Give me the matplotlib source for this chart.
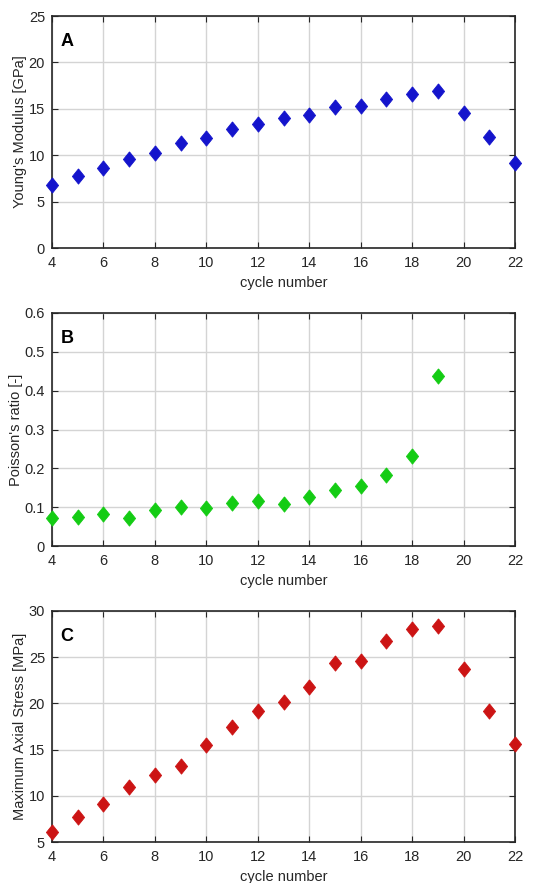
import numpy as np
import matplotlib.pyplot as plt

plt.rcParams['font.family'] = ['Liberation Sans', 'DejaVu Sans']

cycles = np.arange(4, 23)
youngs = [6.8, 7.8, 8.6, 9.6, 10.2, 11.3, 11.8, 12.8, 13.4, 14.0,
          14.3, 15.2, 15.3, 16.1, 16.6, 16.9, 14.5, 12.0, 9.2]
poisson_cycles = np.arange(4, 20)
poisson = [0.073, 0.074, 0.083, 0.071, 0.092, 0.100, 0.098, 0.110, 0.115,
           0.108, 0.126, 0.144, 0.155, 0.184, 0.231, 0.437]
stress = [6.1, 7.7, 9.1, 11.0, 12.3, 13.2, 15.5, 17.4, 19.2, 20.1,
          21.8, 24.4, 24.6, 26.8, 28.0, 28.4, 23.7, 19.2, 15.6]

panels = [
    ("A", cycles, youngs, "#1414cc", "Young's Modulus [GPa]", (0, 25), np.arange(0, 26, 5)),
    ("B", poisson_cycles, poisson, "#14cc14", "Poisson's ratio [-]", (0, 0.6), np.arange(0, 0.61, 0.1)),
    ("C", cycles, stress, "#cc1414", "Maximum Axial Stress [MPa]", (5, 30), np.arange(5, 31, 5)),
]

# MATLAB-style diamond, taller than wide
diamond = [(0, 1), (0.8, 0), (0, -1), (-0.8, 0), (0, 1)]

fig = plt.figure(figsize=(5.47, 8.83), dpi=100)
tops = [16, 313, 611]
heights = [232, 233, 231]
grey = "#262626"

for (lab, x, y, col, ylab, ylim, yt), top, h in zip(panels, tops, heights):
    ax = fig.add_axes([52 / 547, 1 - (top + h) / 883, 463 / 547, h / 883])
    ax.plot(x, y, linestyle="none", marker=diamond, markersize=11,
            color=col, markeredgewidth=0.6, clip_on=False, zorder=5)
    ax.set_xlim(4, 22)
    ax.set_ylim(*ylim)
    ax.set_xticks(np.arange(4, 23, 2))
    ax.set_yticks(yt)
    if lab == "B":
        ax.set_yticklabels(["0"] + ["%.1f" % v for v in yt[1:]])
    ax.grid(True, color="#d4d4d4", linewidth=1.0)
    ax.set_axisbelow(True)
    ax.tick_params(direction="in", top=True, right=True, labelsize=10.5,
                   colors=grey, length=4, width=0.8)
    ax.tick_params(axis="x", pad=6)
    ax.tick_params(axis="y", pad=5)
    for s in ax.spines.values():
        s.set_color(grey)
        s.set_linewidth(1.2)
    ax.set_xlabel("cycle number", fontsize=10.5, color=grey, labelpad=4)
    ax.set_ylabel(ylab, fontsize=10.5, color=grey, labelpad=1.5)
    ax.text(0.018, 0.89, lab, transform=ax.transAxes, fontsize=13,
            fontweight="bold", va="center", ha="left", color="black")

fig.savefig("out.png", dpi=100)
